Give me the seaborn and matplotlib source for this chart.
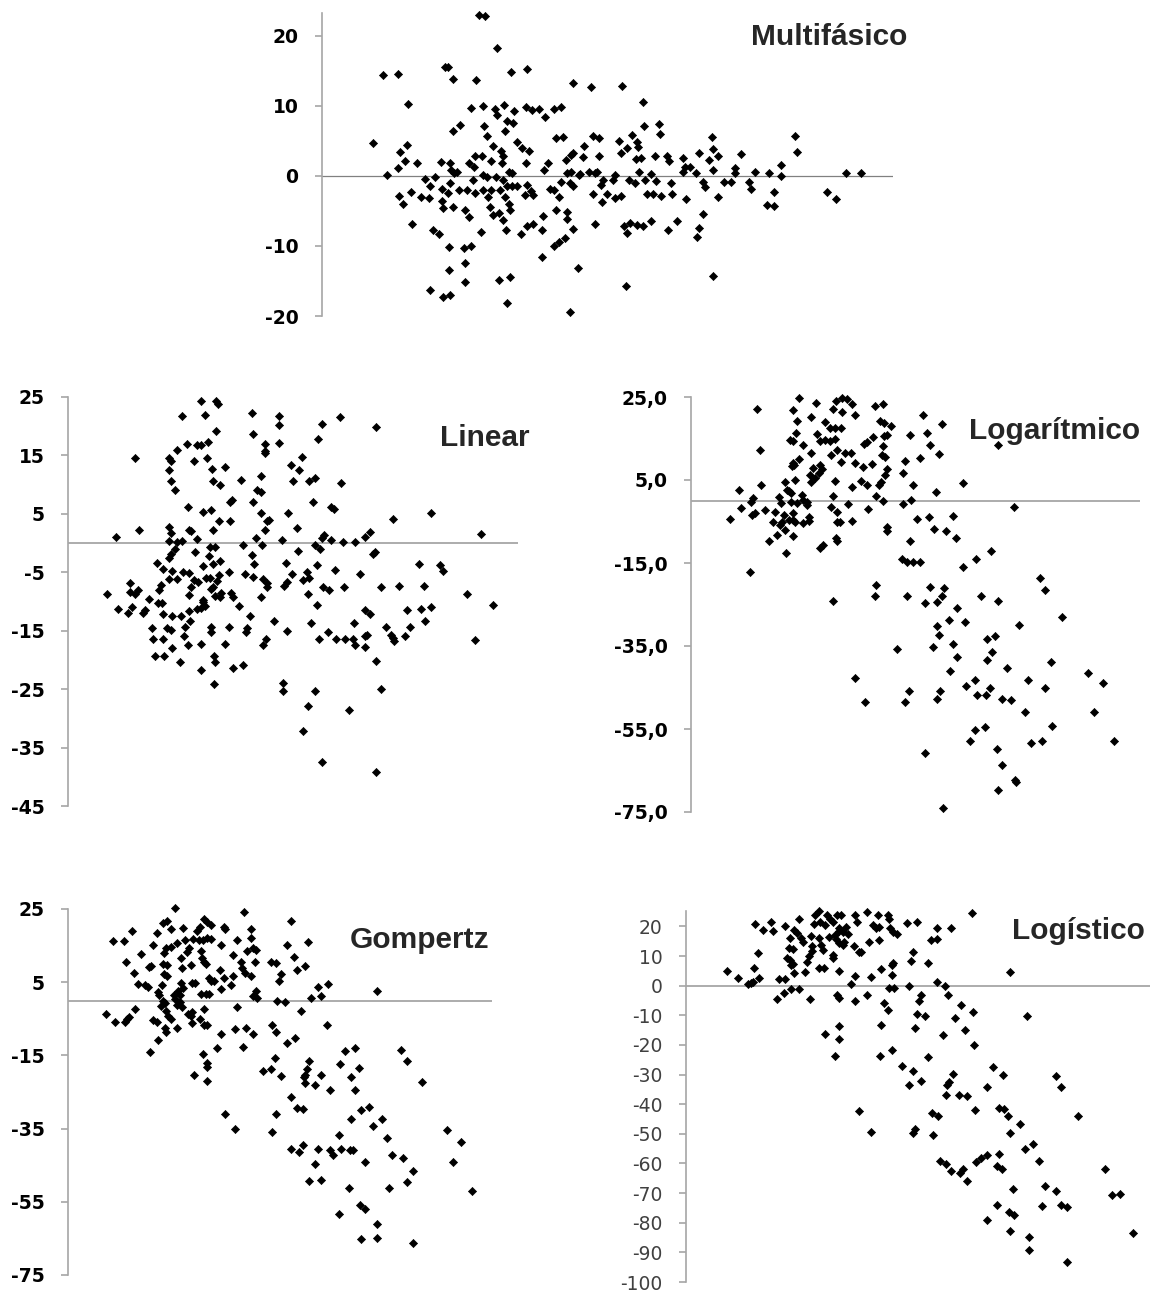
import matplotlib
matplotlib.use("Agg")
import matplotlib.pyplot as plt
import pandas as pd
import seaborn as sns

# ---------------- data (x: position along the unlabelled x axis, y: residual) ----------------
MULTI_PTS = [
(50.7,4.7),(60.7,14.4),(76,14.6),(64.7,0.2),(86,10.3),(84.7,4.4),(78,3.4),(83.3,2.1),(76,1.1),(77.3,-2.9),(81.3,-4),(88.7,-2.3),(95.3,1.8),(90,-6.9),(98.7,-3),(102.7,-0.5),(106.7,-3.1),(108,-1.5),(113.3,-0.1),(110.7,-7.7),(116.7,-8.3),(108,-16.3),(120.7,-17.3),(128,-17),(127.3,-10.1),(127.3,-13.4),(119.3,2),(120,-1.8),(120,-3.6),(121.3,-4.6),(122.7,15.6),(126,15.6),(130.7,13.9),(130.7,6.4),(138,7.3),(128,1.8),(129.3,0.9),(132,0.4),(135.3,0.6),(128,-1),(126,-2.5),(130.7,-4.4),(136.7,-2),(144.7,-2),(143.3,-4.8),(146.7,-5.8),(142,-10.3),(149.3,-10),(142.7,-12.4),(143.3,-15.2),(146.7,1.8),(152,1.3),(151.3,-0.6),(149.3,9.7),(154,13.7),(161.3,10),(153.3,2.8),(160,2.8),(162,7.1),(164.7,5.7),(156.7,23),(162.7,22.8),(175.3,18.3),(173.3,9.6),(175.3,8.7),(182,10.1),(192,9.2),(184.7,7.8),(191.3,7.5),(189.3,14.9),(204.7,15.2),(183.3,6.4),(171.3,4.2),(178.7,3.5),(181.3,2.9),(168.7,2.1),(180,1.9),(161.3,0.1),(165.3,-0.1),(174,-0.1),(181.3,-0.6),(186.7,0.6),(190,0.4),(153.3,-2.5),(160.7,-2),(166,-3),(169.3,-2),(178,-2),(184.7,-1.5),(190,-1.5),(194.7,-1.5),(183.3,-3),(186.7,-4),(188,-4.9),(168,-4.4),(170.7,-5.6),(177.3,-5.3),(181.3,-6.3),(184,-7.7),(158.7,-8),(177.3,-14.9),(188,-14.4),(185.3,-18.1),(195.3,4.9),(200,4),(207.3,3.5),(204,1.9),(205.3,-1.3),(208.7,-2.2),(203.3,-2.7),(211.3,-2.7),(199.3,-8.3),(204.7,-7.2),(211.3,-6.9),(220,-7.7),(220.7,-5.7),(220,-11.6),(204,9.8),(210,9.4),(217.3,9.6),(223.3,8.4),(232,9.6),(239.3,9.8),(234,5.4),(240.7,5.5),(222,0.8),(226,1.8),(228,-1.8),(232,-2),(236.7,-3),(234,-4.8),(244.7,-5.2),(244.7,-6.2),(250.7,-7.6),(243.3,-8.9),(237.3,-9.5),(232,-10),(244,2.3),(248.7,3),(250.7,3.3),(244.7,0.4),(249.3,0.6),(248,-1),(250.7,-1.5),(238.7,-0.8),(250.7,13.2),(248,-19.5),(256,-13.2),(257.3,0.1),
(268.7,12.7),(300,12.8),(320.7,10.5),(322,7.1),(336.7,7.4),(338,6),(270.7,5.7),(277.3,5.4),(262,4.3),(260.7,2.7),(277.3,2.8),(296.7,5),(310,5.9),(305.3,4),(298.7,3.2),(315.3,4.8),(316,4.1),(314,2.4),(318.7,2.5),(333.3,2.8),(344.7,2.8),(347.3,2.1),(361.3,2.5),(376.7,3.2),(386.7,2.2),(390,5.5),(390.7,3.8),(396,2.8),(390.7,0.9),(419.3,3.1),(363.3,1.3),(368,1.3),(361.3,0.6),(374,0.4),(413.3,1.1),(413.3,0.4),(432.7,0.6),(446.7,0.4),(459.3,1.6),(459.3,0),(472.7,5.7),(474.7,3.4),(524,0.4),(538.7,0.4),(505.3,-2.3),(514,-3.3),(452,-2.3),(445.3,-4.2),(452,-4.3),(426.7,-0.8),(428.7,-1.8),(402,-0.8),(408.7,-0.8),(381.3,-0.8),(382.7,-1.6),(396,-3),(364,-3.3),(349.3,-1),(350,-2.6),(338.7,-2.9),(325.3,-2.6),(330.7,-2.6),(334,-0.7),(329.3,0.3),(323.3,-0.6),(316.7,0.6),(313.3,-1),(306.7,-0.6),(290.7,-0.6),(293.3,0.1),(280.7,-0.6),(278.7,-1.3),(284.7,-2.6),(280,-3.7),(292.7,-3.2),(298.7,-2.9),(270.7,-2.6),(267.3,0.6),(273.3,0.4),(258,0.3),(274.7,0.6),(273.3,-6.9),(302,-7.1),(308,-6.7),(314.7,-7),(320.7,-7.1),(329.3,-6.4),(305.3,-8.1),(346,-7.7),(354.7,-6.5),(380.7,-5.5),(376.7,-7.5),(375.3,-8.7),(304,-15.7),(390.7,-14.3),
]

LINEAR_PTS = [
(38.7,-8.7),(48,1.0),(50.3,-11.2),(60,-11.9),(62,-8.4),(62,-6.9),(66.7,-8.8),(70,-8),(64,-10.9),(66.7,14.6),(70.7,2.3),(74.7,-11.9),(76.7,-11.5),(81.3,-9.5),(84,-14.6),(85.3,-16.4),(86.7,-19.4),(88.7,-3.4),(90,-10.2),(91.3,-8),(92.7,-7.2),(94,-10.3),(95.3,-4.4),(95.3,-12.1),(94.7,-16.5),(96,-19.4),(98.7,-14.5),(100.7,12.5),(100.7,14.6),(102.7,14.1),(103.3,10.6),(107.3,9.1),(108.7,15.9),(100.7,2.7),(102.7,1.8),(101.3,0.3),(100.7,-2.6),(103.3,-1.8),(106.7,-1),(104,-4.7),(100.7,-6.1),(104,-12.4),(102.7,-14.8),(104,-17.9),(108.7,-6.1),(108.7,0.2),(114,0.3),(114,21.7),(119.3,17),(120,6.1),(121.3,2.3),(122.7,2.1),(114.7,-5),(121.3,-5.1),(120.7,-8.9),(123.3,-7.5),(113.3,-12.4),(117.3,-14.4),(120.7,-11.6),(122,-13.3),(116,-15.9),(120,-17.4),(112,-20.4),(128.7,16.7),(132.7,16.8),(132.7,24.4),(137.3,22),(140,17.3),(126,14),(135.3,5.4),(129.3,0.7),(127.3,-1.5),(126,-6.4),(130,-6.6),(134.7,-3.9),(138,-6),(142,-6),(142,-0.6),(146.7,-0.6),(142.7,5.6),(144,12.6),(145.3,10.7),(138.7,14.6),(148.3,19.2),(148,24.4),(150,23.8),(152,9.9),(157.3,13.1),(150.7,3.7),(145.3,2.3),(141.3,-2.2),(145.3,-3.6),(152,-3.1),(150.7,-5.5),(149.3,-6.5),(142.7,-7.9),(145.3,-7.5),(147.3,-9),(153.3,-8.5),(152,-9.3),(134.7,-9.8),(128.7,-11.2),(132.7,-11.1),(136.7,-10.7),(134.7,-10),(142.7,-14.3),(143.3,-15.3),(132.7,-17.2),(146,-19.3),(146.7,-20.4),(133.3,-21.8),(146,-24.2),(157.3,-17.2),(161.3,-14.4),(165.3,-21.3),(175.3,-20.8),(161.3,-5),(162.7,-8.6),(164.7,-9.3),(170.7,-10.7),(162,7),(164,7.4),(162,3.7),(172.7,10.8),(174.7,-0.4),(177.3,-5.3),(178.7,-14.6),(178,-15.3),(182,-12.5),(184,22.2),(184.7,18.7),(185.3,7),(192.7,11.5),(188.7,9),(192.7,8.8),(192.7,5.2),(200.7,4),(198.7,3.7),(196.7,2.2),(188,0.9),(194,-0.4),(184,-2),(186,-3.6),(185.3,-5.8),(195.3,-6.1),(198.7,-6.8),(198.7,-7.5),(192.7,-9.3),(198,-16.4),(194.7,-17.5),(206,-13.3),(196.7,17),(197.3,15.7),(197.3,15.4),(210.7,21.7),(210.7,17.2),(211.3,20.2),
(254,20.4),(272,21.5),(308,19.8),(250,17.8),(234,14.7),(222.7,13.4),(231.3,12.5),(224.7,10.6),(241.3,10.6),(247.3,11.1),(273.3,10.3),(244.7,7),(263.3,6.2),(266,5.8),(220,5.1),(228.7,2.5),(325.3,4.2),(362.7,5.1),(413.3,1.5),(302,1.9),(296.7,1),(254,0.9),(256,1.3),(263.3,0.6),(275.3,0.2),(287.3,0.2),(247.3,-0.3),(252,-1.1),(230,-1.3),(214,0.5),(307.3,-1.5),(305.3,-1.8),(218,-3.4),(248.7,-3.8),(267.3,-4.6),(292,-5.3),(238.7,-4.9),(224,-5.3),(235.3,-6.4),(240.7,-6),(218.7,-6.6),(216,-7.3),(254.7,-7.6),(260.7,-8),(276,-7.6),(312.7,-7.6),(330.7,-7.3),(356,-7.4),(351.3,-3.6),(372,-3.7),(374.7,-4.8),(398.7,-8.7),(424.7,-10.6),(240,-8.7),(248.7,-10.6),(296.7,-11.4),(302,-12.2),(339.3,-11.5),(352.7,-11.3),(362.7,-10.9),(219.3,-15.1),(242.7,-13.7),(251.3,-16.4),(260,-15.2),(268,-16.4),(277.3,-16.4),(285.3,-16.4),(287.3,-17.4),(286,-13.7),(296.7,-15.9),(299.3,-15.7),(297.3,-17.8),(318,-14.4),(322.7,-15.7),(325.3,-16.2),(326,-16.8),(336.7,-15.9),(342,-14.4),(356.7,-13.4),(406.7,-16.6),(308,-20.1),(214.7,-23.9),(215.3,-25.3),(247.3,-25.4),(313.3,-25),(240,-27.8),(280.7,-28.6),(235.3,-32.2),(254,-37.4),(308,-39.1),
]

LOG_PTS = [
(39,-4.4),(48,2.7),(50.3,-1.7),(59,-17.1),(60.3,-0.3),(62.3,0.6),(63.7,-3),(61,-3.4),(66.3,22),(69,12.2),(70.3,3.7),(73.7,-2.3),(77.7,-9.8),(81.7,-5.1),(84.3,-2.7),(85.7,-8.2),(87.7,0.8),(89.7,-0.5),(89,-5.8),(91,-5),(93,-3.4),(94.3,4.5),(95.7,2.7),(97.7,2.4),(100.3,1.9),(95,-12.6),(94.3,-7.1),(97.7,-4.6),(102.3,-3),(101.7,-4.6),(104.3,-5),(102.3,-8.6),(100.3,-0.2),(101,8.3),(101.7,9),(103,8.7),(107.7,10.1),(99,14.6),(102.3,14.3),(105,16.3),(105.7,19.3),(102.3,21.9),(107.7,24.8),(103.7,4.9),(106.3,-0.6),(111,1.4),(112.3,0.2),(115.7,-0.2),(116.3,-1.1),(112.3,-5.3),(117.7,-4.8),(117.7,-3.8),(112.3,13.5),(119.7,11.5),(119.7,20.3),(125,23.6),(119,6.3),(121.7,8),(120.3,4.6),(124.3,5.4),(127.7,6.6),(129,8.7),(131,7.7),(125.7,16.1),(133.7,18.9),(129,14.3),(134.3,14.7),(139,14.4),(144.3,14.9),(139,17.5),(144.3,17.5),(149.7,17.5),(140.3,11.1),(145.7,12.3),(149.7,9.3),(154.3,11.5),(160.3,11.5),(164.3,9),(141.7,22.2),(145,24.1),(151,24.8),(156.3,24.6),(161,23.2),(151,21.4),(163.7,20.7),(144.3,4.7),(142.3,1.2),(140.3,-1.4),(146.3,-2.6),(145.7,-5),(149,-5),(157,-0.7),(161,3.2),(161,-4.8),(145,-9),(145.7,-9.8),(129,-11.4),(132.3,-10.6),(142.3,-24.1),(164.3,-42.6),
(183.7,22.8),(191.7,23.4),(189,19.1),(193,18.7),(200.3,18),(195.7,15.9),(193,15.5),(192.3,13.3),(182.3,15.3),(175.7,14.1),(173,13.6),(191,11.1),(194.3,10.6),(171.7,8.2),(181,8.8),(196.3,7.7),(194.3,6.1),(189.7,4.5),(187.7,3.7),(175.7,3.7),(170.3,4.7),(185,1.2),(191.7,0),(177,-2),(211.7,6.7),(213.7,9.5),(219,15.9),(229,10.4),(232.3,20.6),(236.3,16.3),(239,13.5),(247.7,11.3),(251,18.4),(222.3,3.7),(220.3,0.3),(212.3,-0.8),(245,2.1),(271.7,4.2),(307,13.5),(323,-1.4),(226.3,-4.5),(237.7,-4),(261.7,-3.6),(195.7,-6.4),(196.3,-7.2),(243,-6.8),(255,-7.2),(265,-9),(219,-9.7),(211,-14.1),(215.7,-14.7),(221.7,-14.7),(229,-14.8),(272.3,-16),(285,-14),(299.7,-12.1),(349,-18.5),(354.3,-21.6),(185,-20.3),(184.3,-22.9),(216.3,-22.9),(239,-20.7),(253,-21.1),(251,-22.9),(234.3,-24.7),(246.3,-24.5),(266.3,-25.9),(290.3,-22.9),(307,-24.2),(371,-27.9),(258.3,-28.7),(273.7,-29.1),(328.3,-29.9),(246.3,-30.3),(247.7,-32.4),(205.7,-35.8),(241.7,-35.2),(261.7,-34.4),(266.3,-37.7),(295.7,-33.3),(303.7,-32.7),(301,-36.4),(295.7,-38.3),(259,-41),(315.7,-40.4),(360.3,-38.8),(397,-41.4),(411.7,-43.8),(283.7,-43.1),(275,-44.7),(285.7,-46.8),(295,-46.8),(299,-45.2),(311,-47.7),(319.7,-48),(337,-43.1),(354.3,-45.1),(174.3,-48.6),(214.3,-48.5),(218.3,-45.9),(246.3,-47.8),(249,-45.9),(334.3,-50.9),(403,-50.9),(361,-54.2),(283.7,-55.2),(293.7,-54.5),(279,-58),(339.7,-58.3),(351,-58),(423,-58),(234.3,-60.7),(305.7,-59.7),(311,-63.7),(324.3,-67.3),(325,-67.8),(307,-69.7),(251.7,-74),
]

GOMP_PTS = [
(38,-3.6),(47.3,-5.8),(44.7,16.3),(56,16.3),(64,19),(58,10.6),(66,7.4),(56.7,-6),(58.7,-5),(61.3,-4.4),(67.3,-2.3),(70,4.5),(73.3,12.8),(77.3,4.1),(80,3.8),(80.7,9.2),(82.7,9.5),(82,-14.2),(85.3,15.3),(88.7,18.4),(85.3,-5.4),(89.3,-5.8),(90,-10.9),(90,2.3),(91.3,1.6),(94,4.2),(93.3,-1.6),(94.7,-0.1),(96.7,-0.7),(95.3,21.3),(99.3,21.7),(102.7,19.5),(96,12.9),(98,14.4),(102.7,14.7),(95.3,10.1),(98.7,9.7),(96,7.2),(99.3,6.6),(98,-3),(100,-4.1),(96.7,-7.5),(98,-8.7),(102.7,-5),(107.3,25.2),(108.7,15.6),(106,1.5),(107.3,0.5),(108.7,-1.2),(112,-0.3),(109.3,-7.4),(113.3,11.7),(114.7,19.9),(114,9),(117.3,16.5),(120.7,14.3),(119.3,13.2),(113.3,4.7),(114.7,3.4),(110,2.5),(112,1.4),(114,-1.9),(122.7,-4.1),(120,-3.7),(124,-6.2),(124,-3.2),(123.3,9.8),(124,4.8),(127.3,4.8),(126,-20.4),(125.3,16.8),(128.7,19),(132,20.1),(136,22.2),(139.3,21.5),(142.7,20.6),(131.3,16.5),(134.7,16.5),(138.7,17),(143.3,16.8),(133.3,13.5),(134,11.5),(136,10.6),(138,10.1),(133.3,1.9),(138,1.7),(141.3,1.7),(140.7,6.1),(143.3,5.2),(136,-2.3),(132,-5),(136,-6.8),(139.3,-6.8),(134.7,-14.5),(138.7,-17.2),(138.7,-18.3),(138.7,-22),(146,5.2),(153.3,3.1),(152,8.3),(156,6.2),(153.3,15.2),(156,20.1),(156.7,19.4),(153.3,-9.1),(149.3,-12.9),(163.3,4.2),(164.7,6.6),(165.3,12.4),(169.3,16.4),(167.3,-7.8),(169.3,-1.9),(173.3,10.6),(176,24.1),(174,9),(177.3,7.5),(178.7,13.5),(178,-7.4),(175.3,-12.7),(157.3,-30.9),(167.3,-35.1),(182.7,19.4),(182.7,17),(185.3,14.3),(188,13.8),(187.3,10.6),(182.7,6.6),(188,2.5),(185.3,1.1),(188.7,0.6),(185.3,-9.2),
(222.7,21.7),(218.7,15.3),(240,16.1),(226,11.9),(228.7,8.4),(236.7,9.5),(202.7,10.6),(208,10.2),(212.7,7.3),(210.7,5.4),(250,3.6),(260,4.4),(308.7,2.5),(243.3,0.8),(252.7,1.2),(209.3,0),(216.7,-0.3),(232.7,-3),(204,-6.7),(259.3,-6.7),(208,-8.7),(227.3,-10.2),(218.7,-11.5),(277.3,-13.8),(286.7,-13.1),(333.3,-13.4),(338.7,-16.5),(206.7,-15.8),(241.3,-16.5),(195.3,-19.3),(202.7,-18.6),(212.7,-20.5),(238.7,-18.6),(236.7,-20.4),(236,-20.8),(253.3,-20.4),(272,-17.4),(290.7,-18.5),(283.3,-20.9),(237.3,-22.6),(247.3,-23.1),(262,-24.5),(286.7,-24.5),(354,-22.4),(223.3,-26.5),(228.7,-29.5),(235.3,-29.6),(208,-31.1),(293.3,-29.8),(301.3,-29.1),(283.3,-32.4),(314,-32.4),(305.3,-34.4),(204,-35.8),(270.7,-36.7),(318.7,-37.5),(378.7,-35.5),(392.7,-38.6),(223.3,-40.6),(230.7,-41.3),(234.7,-39.5),(250,-40.6),(262,-40.8),(265.3,-42.2),(272.7,-40.6),(282,-40.8),(285.3,-40.8),(247.3,-44.6),(296.7,-44.2),(324,-42.2),(334.7,-42.9),(344.7,-46.6),(385.3,-44.2),(241.3,-49.3),(253.3,-49),(280.7,-51.1),(321.3,-51.3),(338.7,-49.7),(404,-52),(270.7,-58.4),(292,-56),(296.7,-57.1),(308.7,-61),(293.3,-65.2),(308.7,-65),(344.7,-66.3),
]

LOGIST_PTS = [
(40.7,4.9),(52,2.5),(62,0.5),(64.7,0.8),(66.7,1.1),(73.3,2.5),(68,6.1),(72,11),(69.3,20.9),(77.3,18.9),(84.7,21.4),(86.7,18.4),(90.7,-4.5),(92.7,2.3),(99.3,2.3),(98,-2.5),(105.3,-1.1),(112.7,-1.1),(124,-4.5),(99.3,20),(108,18.9),(104,16.2),(102.7,12.6),(107.3,12.3),(100.7,9.4),(104,8.5),(105.3,6.9),(108,4.4),(107.3,7.4),(113.3,22.4),(111.3,17.7),(115.3,16.2),(116.7,14.6),(120.7,8.1),(119.3,4.5),(122.7,10.1),(124.7,16.8),(126,13.5),(126,11.7),(128.7,24),(133.3,25.1),(128,20.9),(134,21.4),(132.7,16.2),(134.7,13.7),(136.7,12),(132.7,5.9),(138,5.9),(140.7,23.8),(144,22.4),(139.3,20.5),(142.7,16.4),(147.3,21.4),(146.7,10.3),(147.3,9.4),(148.7,17.1),(151.3,24),(155.3,24),(152.7,19.3),(150,15.9),(152.7,14.3),(157.3,13.7),(153.3,18.6),(156.7,18),(160,19.8),(162,17.6),(158,14.8),(152.7,5),(151.3,-3.2),(152.7,-4.3),(169.3,24),(170.7,21.6),(168,13.5),(173.3,11.4),(165.3,0.5),(168.7,3.4),(168.7,-5.2),(139.3,-16.3),(152.7,-13.7),(152.7,-18.1),(149.3,-23.7),(172.7,-42.4),
(180.7,24.7),(192,23.8),(202,23.8),(187.3,20.5),(192.7,19.9),(190,19.3),(204,19.3),(207.3,18.2),(210.7,17.6),(202.7,22.5),(221.3,21.1),(230.7,21.6),(251.3,19.3),(265.3,19.3),(245.3,15.5),(251.3,15.9),(286,24.5),(182.7,14.6),(192.7,15.3),(175.3,11.4),(227.3,11.4),(224.7,8.4),(206.7,7.6),(206,6.9),(194.7,5.6),(206,3.6),(242,7.6),(185.3,3),(324,4.5),(202.7,-0.9),(208,-0.7),(223.3,0),(250.7,1.1),(259.3,0),(181.3,-3.2),(262,-3.2),(235.3,-3.2),(232.7,-5.2),(198,-6),(202,-8.2),(230.7,-9.6),(239.3,-10.1),(275.3,-6.5),(287.3,-9),(269.3,-11),(341.3,-10.2),(194.7,-13.3),(229.3,-14.2),(279.3,-15),(256.7,-16.7),(288,-19.9),(194,-23.7),(206,-21.6),(242,-24.1),(216,-27),(226.7,-28.9),(223.3,-33.6),(234.7,-32.3),(267.3,-29.7),(262.7,-32.5),(260.7,-33.6),(306.7,-27.5),(316.7,-30.2),(301.3,-34.2),(370,-30.6),(375.3,-34.2),(260,-37),(273.3,-36.8),(280.7,-37.2),(289.3,-41.9),(246,-42.8),(252,-44.1),(312.7,-41.3),(318,-41.5),(322,-44),(334,-46.7),(392,-44),(324,-49.8),(185.3,-49.4),(226.7,-49.6),(229.3,-48.2),(247.3,-50.5),(338.7,-55),(346.7,-53.3),(352.7,-59.3),(254,-59.3),(260,-60.1),(265.3,-62.4),(274,-63.1),(277.3,-62),(280.7,-66),(290,-59.5),(294.7,-58.1),(300.7,-57.3),(312.7,-56.7),(311.3,-60.9),(316,-61.8),(418.7,-62),(327.3,-68.7),(359.3,-67.6),(370,-69.2),(426,-70.5),(434,-70.2),(310.7,-74.1),(356,-74.4),(375.3,-74.1),(381.3,-74.8),(322.7,-76.4),(328,-77.5),(300.7,-79.2),(324,-82.7),(342.7,-84.8),(342.7,-89.2),(381.3,-93.3),(447.3,-83.6),
]

TITLES = ["Multifásico", "Linear", "Logarítmico", "Gompertz", "Logístico"]
MULTI_TICKS = [-20, -10, 0, 10, 20]
LINEAR_TICKS = [25, 15, 5, -5, -15, -25, -35, -45]
LOG_TICKS = [25, 5, -15, -35, -55, -75]
GOMP_TICKS = [25, 5, -15, -35, -55, -75]
LOGIST_TICKS = list(range(20, -101, -10))

# ---------------- style ----------------
sns.set_style("white")
plt.rcParams["font.family"] = ["DejaVu Sans"]

W, H = 1154, 1295
fig = plt.figure(figsize=(W / 100, H / 100), dpi=100)


def rect(l, r, t, b):
    return [l / W, 1 - b / H, (r - l) / W, (b - t) / H]


panels = [
    dict(title=TITLES[0], pts=MULTI_PTS, rect=rect(322, 893, 12.7, 316), ylim=(-20, 23.3),
         ticks=MULTI_TICKS, fmt=lambda v: f"{v:d}", bold=True, tpos=(829, 37),
         zc="#808080", zw=0.9),
    dict(title=TITLES[1], pts=LINEAR_PTS, rect=rect(68, 518, 397, 806), ylim=(-45, 25),
         ticks=LINEAR_TICKS, fmt=lambda v: f"{v:d}", bold=True, tpos=(485, 438),
         zc="#a6a6a6", zw=1.3),
    dict(title=TITLES[2], pts=LOG_PTS, rect=rect(691, 1140, 397, 812), ylim=(-75, 25),
         ticks=LOG_TICKS, fmt=lambda v: f"{v:.1f}".replace(".", ","), bold=True, tpos=(1055, 431),
         zc="#a6a6a6", zw=1.3),
    dict(title=TITLES[3], pts=GOMP_PTS, rect=rect(68, 492, 909, 1275), ylim=(-75, 25),
         ticks=GOMP_TICKS, fmt=lambda v: f"{v:d}", bold=True, tpos=(420, 940),
         zc="#a6a6a6", zw=1.3),
    dict(title=TITLES[4], pts=LOGIST_PTS, rect=rect(686, 1150, 911, 1282), ylim=(-100, 25.2),
         ticks=LOGIST_TICKS, fmt=lambda v: f"{v:d}", bold=False, tpos=(1078, 931),
         zc="#a6a6a6", zw=1.3),
]

for p in panels:
    ax = fig.add_axes(p["rect"])
    df = pd.DataFrame(p["pts"], columns=["x", "y"])
    width_px = p["rect"][2] * W
    ax.axhline(0, color=p["zc"], lw=p["zw"], zorder=1)
    sns.scatterplot(data=df, x="x", y="y", ax=ax, marker="D", color="black",
                    edgecolor="black", linewidth=0.5, s=17, zorder=3, clip_on=False,
                    legend=False)
    ax.set_xlim(0, width_px)
    ax.set_ylim(*p["ylim"])
    ax.set_xticks([])
    ax.set_yticks(p["ticks"])
    ax.set_yticklabels([p["fmt"](v) for v in p["ticks"]])
    ax.set_xlabel("")
    ax.set_ylabel("")
    for side in ["top", "right", "bottom"]:
        ax.spines[side].set_visible(False)
    ax.spines["left"].set_color("#a6a6a6")
    ax.spines["left"].set_linewidth(1.2)
    ax.tick_params(axis="y", direction="out", length=5, width=1.2, color="#a6a6a6",
                   pad=12, left=True)
    for lab in ax.get_yticklabels():
        if p["bold"]:
            lab.set_fontweight("bold")
            lab.set_fontsize(13.5)
            lab.set_color("black")
        else:
            lab.set_fontsize(13.5)
            lab.set_color("#404040")
    ax.patch.set_alpha(0)
    fig.text(p["tpos"][0] / W, 1 - p["tpos"][1] / H, p["title"], ha="center", va="center",
             fontsize=21.5, fontweight="bold", family=["Liberation Sans", "DejaVu Sans"])

fig.savefig("out.png", dpi=100)
